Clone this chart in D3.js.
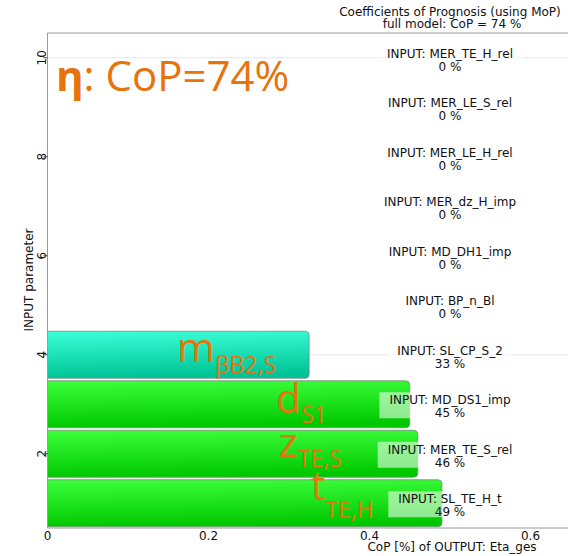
<!DOCTYPE html>
<html>
<head>
<meta charset="utf-8">
<script src="https://cdn.jsdelivr.net/npm/d3@7"></script>
<style>
  body { margin: 0; background: #fff; }
  svg { display: block; }
</style>
</head>
<body>
<div id="chart"></div>
<script>
// rows from bottom (1) to top (10)
const inputNames = ["SL_TE_H_t", "MER_TE_S_rel", "MD_DS1_imp", "SL_CP_S_2", "BP_n_Bl",
                    "MD_DH1_imp", "MER_dz_H_imp", "MER_LE_H_rel", "MER_LE_S_rel", "MER_TE_H_rel"];
const copValues = [0.49, 0.46, 0.45, 0.325, 0, 0, 0, 0, 0, 0];
const copLabels = ["49 %", "46 %", "45 %", "33 %", "0 %", "0 %", "0 %", "0 %", "0 %", "0 %"];
const barKind = ["green", "green", "green", "cyan", null, null, null, null, null, null];
const xTicks = [0, 0.2, 0.4, 0.6];
const yTicks = [2, 4, 6, 8, 10];
const gridRows = [4, 10];

// orange annotations on the bars (x in CoP units, y in row units)
const annotMain = ["m", "d", "z", "t"];
const annotSub = ["\u03b2B2,S", "S1", "TE,S", "TE,H"];
const annotX = [0.161, 0.284, 0.287, 0.327];
const annotY = [3.86, 2.82, 1.94, 1.07];
const annotSubDy = [11, 10, 10, 18];

const width = 568, height = 556;
const margin = { top: 33, left: 47.5, bottom: 28 };
const orange = "#e8720c";
const textFont = "DejaVu Sans, Verdana, sans-serif";
const bigFont = "Open Sans, Noto Sans, sans-serif";

const svg = d3.select("#chart").append("svg")
    .attr("width", width)
    .attr("height", height);

const x = d3.scaleLinear().domain([0, 0.65]).range([margin.left, 570.75]);
const y = d3.scaleLinear().domain([0.5, 10.5]).range([height - margin.bottom, margin.top]);

const defs = svg.append("defs");
const grads = { green: ["#3dff3d", "#00c800"], cyan: ["#3dffd8", "#00c496"] };
Object.entries(grads).forEach(([k, c]) => {
    const g = defs.append("linearGradient").attr("id", "grad-" + k)
        .attr("x1", 0).attr("y1", 0).attr("x2", 0.12).attr("y2", 1);
    g.append("stop").attr("offset", 0).attr("stop-color", c[0]);
    g.append("stop").attr("offset", 0.55).attr("stop-color", d3.interpolateRgb(c[0], c[1])(0.55));
    g.append("stop").attr("offset", 1).attr("stop-color", c[1]);
});

// grid lines
svg.append("g")
    .selectAll("line")
    .data(gridRows)
    .join("line")
    .attr("x1", x(0)).attr("x2", width)
    .attr("y1", d => y(d)).attr("y2", d => y(d))
    .attr("stroke", "#e4e4e4");

const rows = inputNames.map((name, i) => ({
    row: i + 1, name, value: copValues[i], label: copLabels[i], kind: barKind[i]
}));

// bars with rounded right end
const half = 0.475, r = 4;
svg.append("g")
    .selectAll("path")
    .data(rows.filter(d => d.value > 0))
    .join("path")
    .attr("d", d => {
        const x0 = x(0), x1 = x(d.value), y0 = y(d.row + half), y1 = y(d.row - half);
        return `M${x0},${y0}H${x1 - r}Q${x1},${y0} ${x1},${y0 + r}V${y1 - r}Q${x1},${y1} ${x1 - r},${y1}H${x0}Z`;
    })
    .attr("fill", d => `url(#grad-${d.kind})`)
    .attr("stroke", "#808080")
    .attr("stroke-opacity", 0.75)
    .attr("stroke-width", 1);

// frame / axes
svg.append("line").attr("x1", x(0)).attr("x2", width).attr("y1", margin.top).attr("y2", margin.top)
    .attr("stroke", "#9a9a9a");
svg.append("line").attr("x1", x(0)).attr("x2", width).attr("y1", y(0.5)).attr("y2", y(0.5))
    .attr("stroke", "#9a9a9a");
svg.append("line").attr("x1", x(0)).attr("x2", x(0)).attr("y1", margin.top).attr("y2", y(0.5))
    .attr("stroke", "#9a9a9a");

// input labels with half-transparent backing
const lab = svg.append("g")
    .attr("font-family", textFont)
    .attr("font-size", 12)
    .attr("text-anchor", "middle")
    .attr("fill", "#111");

lab.selectAll("g")
    .data(rows)
    .join("g")
    .attr("transform", d => `translate(${x(0.5)},${y(d.row)})`)
    .each(function(d) {
        const g = d3.select(this);
        const box = g.append("rect").attr("fill", "#fff").attr("fill-opacity", 0.55);
        const t1 = g.append("text").attr("y", 0).text("INPUT: " + d.name);
        g.append("text").attr("y", 13).text(d.label);
        const w = t1.node().getComputedTextLength();
        box.attr("x", -w / 2 - 10).attr("width", w + 20).attr("y", -12).attr("height", 26);
    });

// x axis ticks
svg.append("g")
    .attr("font-family", textFont)
    .attr("font-size", 12)
    .attr("text-anchor", "middle")
    .attr("fill", "#111")
    .selectAll("text")
    .data(xTicks)
    .join("text")
    .attr("x", d => x(d))
    .attr("y", 540)
    .text(d => d === 0 ? "0" : d3.format(".1f")(d));

// y axis ticks (rotated)
const yt = svg.append("g")
    .attr("font-family", textFont)
    .attr("font-size", 12)
    .attr("text-anchor", "middle")
    .attr("fill", "#111");
yt.selectAll("text")
    .data(yTicks)
    .join("text")
    .attr("transform", d => `translate(45.5,${y(d)}) rotate(-90)`)
    .text(d => d);
yt.selectAll("line")
    .data(yTicks)
    .join("line")
    .attr("x1", x(0) - 4).attr("x2", x(0))
    .attr("y1", d => y(d)).attr("y2", d => y(d))
    .attr("stroke", "#444");

// titles
const tt = svg.append("g")
    .attr("font-family", textFont)
    .attr("font-size", 12)
    .attr("text-anchor", "middle")
    .attr("fill", "#111");
tt.append("text").attr("x", 450).attr("y", 16).text("Coefficients of Prognosis (using MoP)");
tt.append("text").attr("x", 452).attr("y", 28).text("full model: CoP = 74 %");
tt.append("text").attr("x", 452).attr("y", 551).text("CoP [%] of OUTPUT: Eta_ges");
tt.append("text").attr("transform", "translate(33,280) rotate(-90)").text("INPUT parameter");

// big orange annotations
const big = svg.append("text")
    .attr("x", 56).attr("y", 91)
    .attr("font-family", bigFont)
    .attr("font-size", 42)
    .attr("fill", orange);
big.append("tspan").attr("font-weight", "bold").text("\u03b7");
big.append("tspan").text(": CoP=74%");

svg.append("g")
    .attr("font-family", bigFont)
    .attr("fill", orange)
    .selectAll("text")
    .data(annotMain)
    .join("text")
    .attr("x", (d, i) => x(annotX[i]))
    .attr("y", (d, i) => y(annotY[i]))
    .attr("font-size", 41)
    .each(function(d, i) {
        const t = d3.select(this);
        t.append("tspan").text(d);
        t.append("tspan").attr("font-size", 23).attr("dy", annotSubDy[i]).text(annotSub[i]);
    });
</script>
</body>
</html>
